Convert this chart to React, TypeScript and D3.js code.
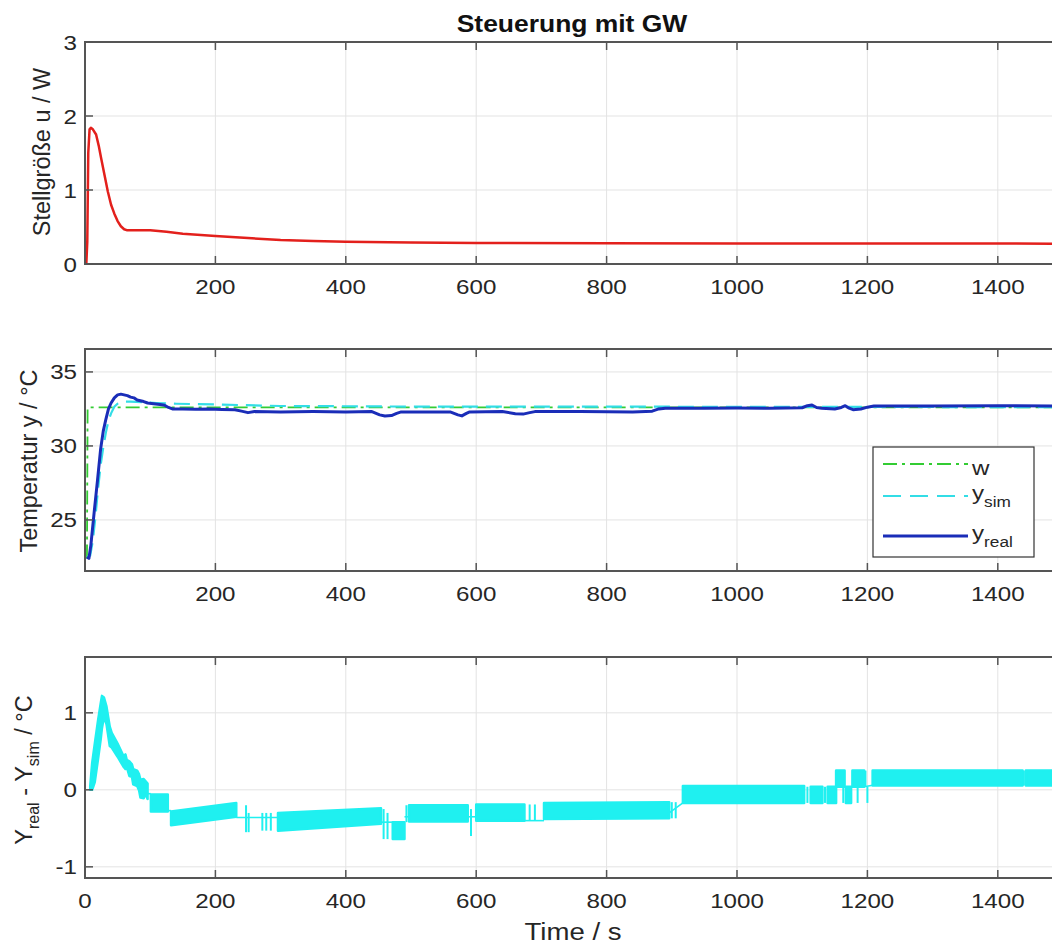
import React from "react";
import * as d3 from "d3";

// ---------- data ----------
const xTicksTop = [200, 400, 600, 800, 1000, 1200, 1400];
const xTicksBottom = [0, 200, 400, 600, 800, 1000, 1200, 1400];
const uTicks = [0, 1, 2, 3];
const tempTicks = [25, 30, 35];
const diffTicks = [-1, 0, 1];

// Stellgröße u (t, u)
const uSeries: [number, number][] = [
  [2, 0], [3.5, 0.3], [5, 1.5], [7, 1.82], [9, 1.84], [12, 1.82], [17, 1.75], [21, 1.6],
  [25, 1.42], [30, 1.2], [35, 0.98], [40, 0.8], [45, 0.68], [50, 0.58], [55, 0.51], [60, 0.47],
  [65, 0.455], [80, 0.455], [100, 0.455], [125, 0.435], [150, 0.41], [200, 0.38], [250, 0.35],
  [300, 0.325], [350, 0.31], [400, 0.3], [500, 0.29], [600, 0.283], [800, 0.28], [1000, 0.278],
  [1500, 0.275],
];

// Sollwert w
const wSeries: [number, number][] = [[3, 22.4], [4, 32.6], [1500, 32.6]];

// simulated temperature
const ySimSeries: [number, number][] = [
  [3, 22.5], [8, 22.6], [12, 23.6], [16, 25.2], [20, 27.1], [24, 28.7], [28, 29.9], [32, 30.9],
  [36, 31.7], [40, 32.2], [45, 32.65], [50, 32.85], [60, 33.0], [70, 33.0], [90, 32.95],
  [110, 32.9], [140, 32.85], [200, 32.8], [300, 32.7], [500, 32.66], [900, 32.65], [1500, 32.62],
];

// measured temperature
const yRealSeries: [number, number][] = [
  [3, 22.5], [6, 22.4], [9, 23.3], [14, 25.5], [19, 27.6], [24, 29.8], [28, 31.0], [32, 31.8],
  [36, 32.5], [40, 32.9], [45, 33.25], [50, 33.45], [55, 33.5], [60, 33.45], [65, 33.4],
  [70, 33.3], [75, 33.25], [80, 33.1], [85, 33.05], [90, 33.0], [96, 32.9], [105, 32.85],
  [115, 32.8], [122, 32.75], [128, 32.6], [134, 32.5], [150, 32.5], [170, 32.48], [190, 32.5],
  [210, 32.47], [230, 32.45], [240, 32.35], [250, 32.25], [260, 32.32], [300, 32.3],
  [350, 32.32], [400, 32.3], [440, 32.32], [452, 32.1], [460, 32.02], [470, 32.05],
  [478, 32.2], [485, 32.3], [520, 32.3], [560, 32.3], [572, 32.1], [578, 32.03], [585, 32.2],
  [590, 32.3], [640, 32.32], [660, 32.18], [672, 32.15], [682, 32.25], [690, 32.32],
  [760, 32.33], [840, 32.3], [870, 32.35], [880, 32.5], [890, 32.55], [950, 32.55],
  [1000, 32.56], [1050, 32.55], [1100, 32.58], [1108, 32.72], [1115, 32.77], [1122, 32.6],
  [1130, 32.55], [1150, 32.5], [1160, 32.6], [1166, 32.72], [1172, 32.55], [1178, 32.45],
  [1190, 32.5], [1200, 32.62], [1210, 32.7], [1300, 32.7], [1400, 32.72], [1500, 32.7],
];

// y_real - y_sim: dense quantised oscillation, drawn as bands [t, low, high]
const diffBands: [number, number, number][][] = [
  [[8, 0, 0.05], [11, 0, 0.35], [15, 0.1, 0.6], [20, 0.4, 0.9], [24, 0.65, 1.12],
   [26, 0.8, 1.22], [29, 0.95, 1.2], [33, 0.85, 1.08], [38, 0.57, 0.82], [41, 0.55, 0.74],
   [50, 0.43, 0.6], [59, 0.3, 0.44], [62, 0.27, 0.46], [64, 0.3, 0.39], [68, 0.18, 0.37],
   [72, 0.17, 0.33], [74, 0.07, 0.27], [80, 0.05, 0.25], [83, -0.01, 0.2], [85, -0.1, 0.13],
   [90, -0.11, 0.14], [93, -0.05, 0.11], [96, -0.12, 0.08]],
  [[101, -0.28, -0.06], [127, -0.28, -0.06]],
  [[132, -0.46, -0.28], [232, -0.35, -0.17]],
  [[296, -0.53, -0.3], [454, -0.44, -0.24]],
  [[472, -0.64, -0.42], [490, -0.64, -0.42]],
  [[497, -0.41, -0.2], [587, -0.41, -0.2]],
  [[600, -0.4, -0.19], [674, -0.4, -0.19]],
  [[704, -0.38, -0.17], [896, -0.37, -0.16]],
  [[917, -0.17, 0.05], [1103, -0.17, 0.05]],
  [[1113, -0.17, 0.04], [1131, -0.17, 0.04]],
  [[1139, -0.17, 0.04], [1152, -0.17, 0.04]],
  [[1152, 0.04, 0.25], [1165, 0.04, 0.25]],
  [[1167, -0.17, 0.04], [1175, -0.17, 0.04]],
  [[1177, 0.04, 0.25], [1195, 0.04, 0.25]],
  [[1208, 0.056, 0.25], [1438, 0.056, 0.25]],
  [[1443, 0.056, 0.25], [1500, 0.056, 0.25]],
];
const diffThin: [number, number][][] = [
  [[96, -0.05], [101, -0.05]],
  [[127, -0.27], [132, -0.27]],
  [[232, -0.36], [296, -0.36]],
  [[454, -0.42], [472, -0.42]],
  [[490, -0.35], [497, -0.35]],
  [[587, -0.35], [600, -0.35]],
  [[674, -0.4], [704, -0.4]],
  [[896, -0.3], [917, -0.17]],
  [[1195, 0.04], [1208, 0.06]],
];
const diffSpikes: [number, number, number][] = [
  [247, -0.55, -0.2], [251, -0.55, -0.3], [272, -0.53, -0.3], [278, -0.53, -0.3],
  [285, -0.53, -0.3], [458, -0.64, -0.25], [464, -0.64, -0.3], [493, -0.42, -0.2],
  [592, -0.6, -0.25], [682, -0.4, -0.19], [690, -0.4, -0.19], [900, -0.37, -0.16],
  [906, -0.37, -0.16], [1108, -0.17, 0.04], [1135, -0.17, 0.04], [1163, -0.17, 0.04],
  [1170, -0.17, 0.04], [1185, -0.17, 0.04], [1197, 0.04, 0.25], [1200, -0.17, 0.04],
  [1440, 0.056, 0.25],
];

// ---------- layout ----------
const W = 1052;
const H = 947;
const FONT = "'Liberation Sans', Arial, Helvetica, sans-serif";
const SX = 1.15;
const xScale = d3.scaleLinear().domain([0, 1500]).range([85, 85 + 0.652 * 1500]);
const X0 = 85;
const X1 = 85 + 0.652 * 1500;

const GRID = "#e3e3e3";
const AXIS = "#555555";
const TEXT = "#262626";

function HText(props: any) {
  const { x, y, anchor = "middle", size = 21, weight = "normal", fill = TEXT, children } = props;
  return (
    <text
      transform={`translate(${x},${y}) scale(${SX},1)`}
      textAnchor={anchor}
      fontSize={size}
      fontWeight={weight}
      fill={fill}
      fontFamily={FONT}
    >
      {children}
    </text>
  );
}

function Panel(props: any) {
  const { id, top, bottom, yDomain, yTicks, xTicks, children } = props;
  const y = d3.scaleLinear().domain(yDomain).range([bottom, top]);
  const tickLen = 8;
  return (
    <g>
      <defs>
        <clipPath id={id}>
          <rect x={X0} y={top} width={X1 - X0} height={bottom - top} />
        </clipPath>
      </defs>
      <rect x={X0} y={top} width={X1 - X0} height={bottom - top} fill="#ffffff" />
      {xTicks.map((t: number) => (
        <line key={"gx" + t} x1={xScale(t)} x2={xScale(t)} y1={top} y2={bottom} stroke={GRID} strokeWidth={1} />
      ))}
      {yTicks.map((v: number) => (
        <line key={"gy" + v} x1={X0} x2={X1} y1={y(v)} y2={y(v)} stroke={GRID} strokeWidth={1} />
      ))}
      <g clipPath={`url(#${id})`}>{children(y)}</g>
      <rect x={X0} y={top} width={X1 - X0} height={bottom - top} fill="none" stroke={AXIS} strokeWidth={2} />
      {xTicks.map((t: number) => (
        <g key={"tx" + t}>
          <line x1={xScale(t)} x2={xScale(t)} y1={bottom} y2={bottom - tickLen} stroke={AXIS} strokeWidth={1.5} />
          <line x1={xScale(t)} x2={xScale(t)} y1={top} y2={top + tickLen} stroke={AXIS} strokeWidth={1.5} />
          <HText x={xScale(t)} y={bottom + 30}>{String(t)}</HText>
        </g>
      ))}
      {yTicks.map((v: number) => (
        <g key={"ty" + v}>
          <line x1={X0} x2={X0 + tickLen} y1={y(v)} y2={y(v)} stroke={AXIS} strokeWidth={1.5} />
          <line x1={X1} x2={X1 - tickLen} y1={y(v)} y2={y(v)} stroke={AXIS} strokeWidth={1.5} />
          <HText x={77} y={y(v) + 7.5} anchor="end">{String(v)}</HText>
        </g>
      ))}
    </g>
  );
}

export default function App() {
  const lineGen = (ys: d3.ScaleLinear<number, number>) =>
    d3.line<[number, number]>().x((d) => xScale(d[0])).y((d) => ys(d[1]));

  return (
    <svg
      width={W}
      height={H}
      viewBox={`0 0 ${W} ${H}`}
      style={{ position: "absolute", left: 0, top: 0, background: "#ffffff" }}
    >
      <rect x={0} y={0} width={W} height={H} fill="#ffffff" />
      <HText x={572} y={32} size={23} weight="bold" fill="#111">Steuerung mit GW</HText>

      {/* top panel */}
      <Panel id="clipU" top={42} bottom={264} yDomain={[0, 3]} yTicks={uTicks} xTicks={xTicksTop}>
        {(y: any) => (
          <path d={lineGen(y)(uSeries) || ""} fill="none" stroke="#e3201c" strokeWidth={2.5} strokeLinejoin="round" />
        )}
      </Panel>
      <text
        transform="translate(50,152) rotate(-90)"
        textAnchor="middle"
        fontSize={23.5}
        fill={TEXT}
        fontFamily={FONT}
      >
        Stellgröße u / W
      </text>

      {/* middle panel */}
      <Panel id="clipT" top={349} bottom={571} yDomain={[21.55, 36.55]} yTicks={tempTicks} xTicks={xTicksTop}>
        {(y: any) => (
          <g>
            <path d={lineGen(y)(wSeries) || ""} fill="none" stroke="#33cc33" strokeWidth={1.8} strokeDasharray="14,5,3,5" />
            <path d={lineGen(y)(ySimSeries) || ""} fill="none" stroke="#33dde6" strokeWidth={2.2} strokeDasharray="16,8" />
            <path d={lineGen(y)(yRealSeries) || ""} fill="none" stroke="#1a2db8" strokeWidth={3} strokeLinejoin="round" />
          </g>
        )}
      </Panel>
      <text
        transform="translate(37,461) rotate(-90)"
        textAnchor="middle"
        fontSize={23.5}
        fill={TEXT}
        fontFamily={FONT}
      >
        Temperatur y / °C
      </text>

      {/* legend */}
      <g>
        <rect x={873} y={447} width={161} height={110} fill="#ffffff" stroke="#333333" strokeWidth={1.2} />
        <line x1={883} x2={968} y1={464} y2={464} stroke="#33cc33" strokeWidth={1.8} strokeDasharray="14,5,3,5" />
        <line x1={883} x2={968} y1={496} y2={496} stroke="#33dde6" strokeWidth={2.2} strokeDasharray="18,9" />
        <line x1={883} x2={968} y1={536} y2={536} stroke="#1a2db8" strokeWidth={3} />
        <HText x={972} y={475} anchor="start" size={21}>w</HText>
        <HText x={972} y={500} anchor="start" size={21}>
          y<tspan fontSize={15} dy={7}>sim</tspan>
        </HText>
        <HText x={972} y={540} anchor="start" size={21}>
          y<tspan fontSize={15} dy={7}>real</tspan>
        </HText>
      </g>

      {/* bottom panel */}
      <Panel id="clipD" top={657} bottom={878} yDomain={[-1.145, 1.725]} yTicks={diffTicks} xTicks={xTicksBottom}>
        {(y: any) => {
          const area = d3
            .area<[number, number, number]>()
            .x((d) => xScale(d[0]))
            .y0((d) => y(d[1]))
            .y1((d) => y(d[2]));
          return (
            <g>
              {diffBands.map((seg, i) => (
                <path key={"b" + i} d={area(seg) || ""} fill="#1ff0f0" stroke="#1ff0f0" strokeWidth={2.5} strokeLinejoin="round" />
              ))}
              {diffThin.map((seg, i) => (
                <path key={"t" + i} d={lineGen(y)(seg) || ""} fill="none" stroke="#1ff0f0" strokeWidth={1.6} />
              ))}
              {diffSpikes.map((s, i) => (
                <line key={"s" + i} x1={xScale(s[0])} x2={xScale(s[0])} y1={y(s[1])} y2={y(s[2])} stroke="#1ff0f0" strokeWidth={2} />
              ))}
            </g>
          );
        }}
      </Panel>
      <text
        transform="translate(32,770) rotate(-90)"
        textAnchor="middle"
        fontSize={23.5}
        fill={TEXT}
        fontFamily={FONT}
      >
        Y<tspan fontSize={16} dy={7}>real</tspan>
        <tspan dy={-7}> - Y</tspan>
        <tspan fontSize={16} dy={7}>sim</tspan>
        <tspan dy={-7}> / °C</tspan>
      </text>

      <HText x={573} y={940} size={24}>Time / s</HText>
    </svg>
  );
}
